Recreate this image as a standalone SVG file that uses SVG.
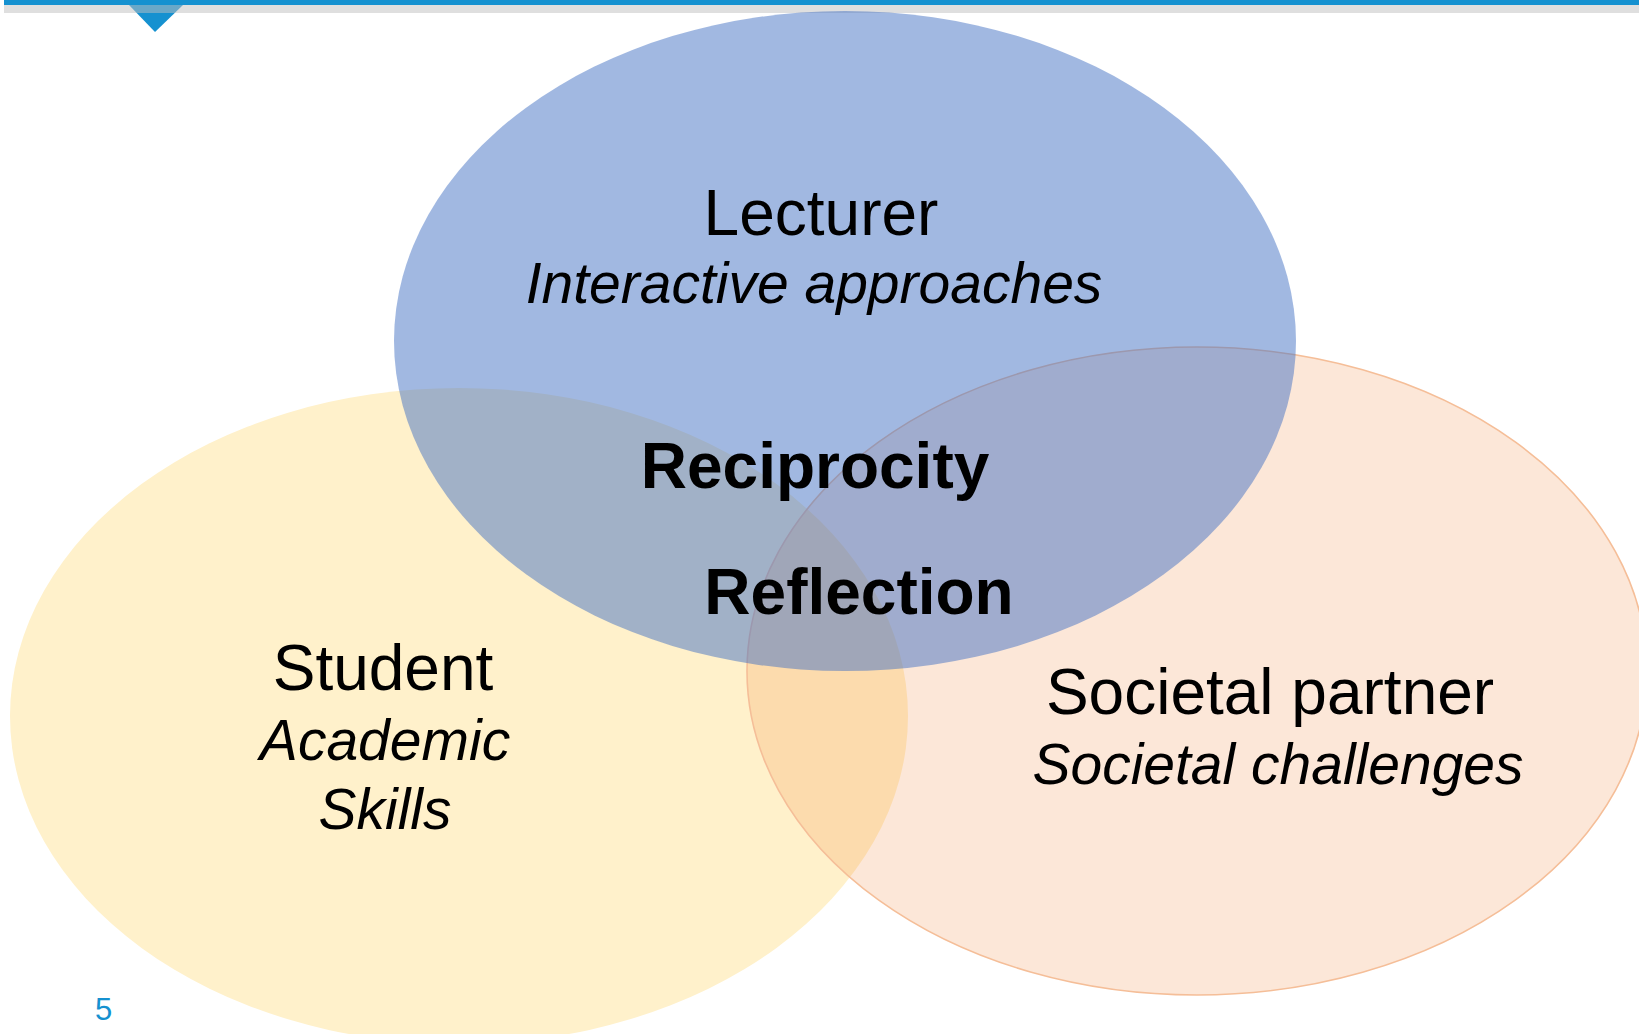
<svg xmlns="http://www.w3.org/2000/svg" width="1639" height="1034" viewBox="0 0 1639 1034">
<style>
.t{font-family:"Liberation Sans",Arial,sans-serif;fill:#000;text-anchor:middle}
.h{font-size:64px}
.i{font-size:57px;font-style:italic}
.b{font-size:64px;font-weight:bold}
</style>
<rect width="1639" height="1034" fill="#fff"/>
<g id="header">
<polygon points="129,5 183,5 155,32" fill="#1591D0"/>
<rect x="4" y="0" width="1635" height="5" fill="#1591D0"/>
<rect x="4" y="5" width="1635" height="8" fill="#BFBFBF" fill-opacity="0.5"/>
</g>
<g id="student">
<ellipse cx="459" cy="716" rx="449" ry="328" fill="#FFF1CB"/>
</g>
<g id="partner">
<ellipse cx="1197" cy="671" rx="450" ry="324" fill="#ED7D31" fill-opacity="0.19" stroke="#F5BE98" stroke-width="1.6"/>
</g>
<g id="lecturer">
<ellipse cx="845" cy="341" rx="451" ry="330" fill="#4472C4" fill-opacity="0.5"/>
</g>
<g id="connectors"></g>
<g id="labels">
<text class="t h" x="821" y="235">Lecturer</text>
<text class="t i" x="814" y="303">Interactive approaches</text>
<text class="t b" x="815" y="488">Reciprocity</text>
<text class="t b" x="859" y="614">Reflection</text>
<text class="t h" x="383" y="690">Student</text>
<text class="t i" x="385" y="760">Academic</text>
<text class="t i" x="385" y="829">Skills</text>
<text class="t h" x="1270" y="714">Societal partner</text>
<text class="t i" x="1278" y="784">Societal challenges</text>
<text x="103.5" y="1020" font-family="Liberation Sans, Arial, sans-serif" font-size="31" fill="#1591D0" text-anchor="middle">5</text>
</g>
</svg>
